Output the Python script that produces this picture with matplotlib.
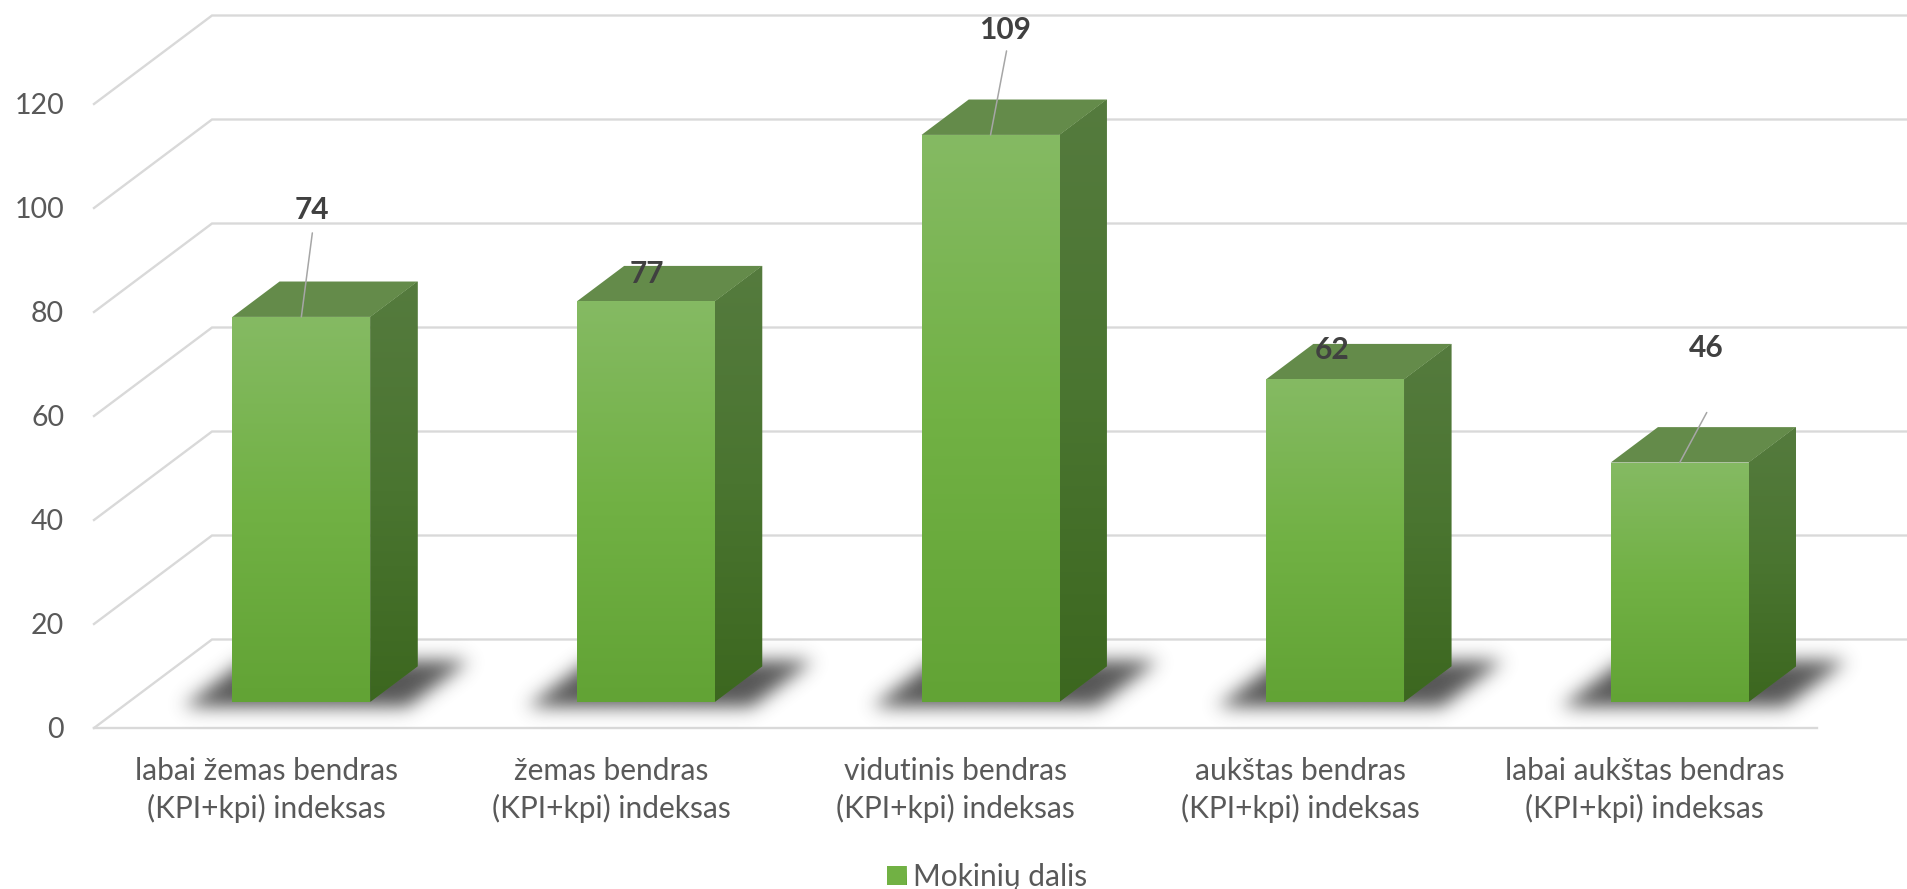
#!/usr/bin/env python3

import numpy as np
import matplotlib
matplotlib.use('Agg')
import matplotlib.pyplot as plt
from matplotlib.colors import LinearSegmentedColormap, to_rgb
from matplotlib.patches import Patch, Polygon

# data
categories = [
    'labai žemas bendras\n(KPI+kpi) indeksas',
    'žemas bendras\n(KPI+kpi) indeksas',
    'vidutinis bendras\n(KPI+kpi) indeksas',
    'aukštas bendras\n(KPI+kpi) indeksas',
    'labai aukštas bendras\n(KPI+kpi) indeksas',
]
values = [74, 77, 109, 62, 46]
yticks = [0, 20, 40, 60, 80, 100, 120]
series_name = 'Mokinių dalis'

# data label placement, in pixels from the top centre of the bar front
label_offsets = [(11, 107), (1, 27), (14, 105), (-3, 29), (27, 115)]
leader_ends = [(11, 84), None, (16, 84), None, (27, 50)]

plt.rcParams['font.family'] = ['Lato', 'DejaVu Sans']

W, H = 1908, 889
LEFT, RIGHT, FLOOR = 94, 1817, 728
PX_PER_CAT = (RIGHT - LEFT) / 5
PX_PER_UNIT = 5.2

# oblique projection: depth 0 is the front of the floor, depth 1 the back wall
DX = 118 / PX_PER_CAT
DY = 88.5 / PX_PER_UNIT
BAR_HALF = 69 / PX_PER_CAT
DEPTH_FRONT = 0.297
DEPTH_BACK = 0.697

GRID = '#d9d9d9'
TEXT = '#595959'
LABEL = '#404040'
FRONT = ['#85ba63', '#71b144', '#62a335']


def project(x, v, d):
    return x + d * DX, v + d * DY


def gradient(ax, corners, colors, zorder):
    # vertical colour gradient clipped to a polygon
    corners = np.array(corners)
    cmap = LinearSegmentedColormap.from_list('g', colors)
    extent = (corners[:, 0].min(), corners[:, 0].max(),
              corners[:, 1].min(), corners[:, 1].max())
    ax.add_patch(Polygon(corners, closed=True, fc=colors[1], ec='none', zorder=zorder))
    im = ax.imshow(np.linspace(0, 1, 256).reshape(-1, 1), cmap=cmap, extent=extent,
                   aspect='auto', origin='upper', zorder=zorder, interpolation='bilinear')
    clip = Polygon(corners, closed=True, transform=ax.transData)
    im.set_clip_path(clip)


def blur(a, sigma):
    r = int(sigma * 3)
    k = np.exp(-0.5 * (np.arange(-r, r + 1) / sigma) ** 2)
    k /= k.sum()
    a = np.apply_along_axis(lambda m: np.convolve(m, k, mode='same'), 0, a)
    a = np.apply_along_axis(lambda m: np.convolve(m, k, mode='same'), 1, a)
    return a


def shadow(ax, i):
    # soft shadow on the floor, a little bigger than the bar footprint
    x0, x1 = i - 0.55, i + 1.05
    v0, v1 = -3, 30
    nx = int((x1 - x0) * PX_PER_CAT)
    ny = int((v1 - v0) * PX_PER_UNIT)
    xs, vs = np.meshgrid(np.linspace(x0, x1, nx), np.linspace(v1, v0, ny))
    d = vs / DY
    mask = (np.abs(xs - d * DX - i) < 0.325) & (d > 0.235) & (d < 0.76)
    alpha = blur(mask.astype(float), 9) * 0.88
    rgba = np.zeros((ny, nx, 4))
    rgba[..., :3] = to_rgb('#3f3f3f')
    rgba[..., 3] = alpha
    ax.imshow(rgba, extent=(x0, x1, v0, v1), aspect='auto', zorder=3, clip_on=False)


fig = plt.figure(figsize=(W / 100, H / 100), dpi=100)
ax = fig.add_axes([LEFT / W, 1 - FLOOR / H, (RIGHT - LEFT) / W, FLOOR / H])

# walls and floor
for v in yticks:
    x_end = 4.5 + DX
    bx, by = project(-0.5, v, 1)
    ax.plot([-0.5, bx, x_end], [v, by, by], color=GRID, lw=1.7, zorder=1, clip_on=False,
            solid_joinstyle='miter')
ax.plot([-0.5, 4.5], [0, 0], color=GRID, lw=1.7, zorder=1, clip_on=False)

# bars
for i, v in enumerate(values):
    shadow(ax, i)
    l, r = i - BAR_HALF, i + BAR_HALF
    fl = project(l, 0, DEPTH_FRONT)
    fr = project(r, 0, DEPTH_FRONT)
    tl = project(l, v, DEPTH_FRONT)
    tr = project(r, v, DEPTH_FRONT)
    br = project(r, 0, DEPTH_BACK)
    bt = project(r, v, DEPTH_BACK)
    bl = project(l, v, DEPTH_BACK)
    gradient(ax, [tr, bt, br, fr], ['#557b3e', '#4a7530', '#3c671f'], 5)
    ax.add_patch(Polygon([tl, tr, bt, bl], closed=True, fc='#648b4a', ec='none', zorder=5))
    gradient(ax, [fl, fr, tr, tl], FRONT, 6)

    # data label and its leader line
    ox, oy = label_offsets[i]
    anchor = project(i, v, DEPTH_FRONT)
    ax.annotate(str(v), anchor, xytext=(ox * 0.72, oy * 0.72), textcoords='offset points',
                ha='center', va='center', fontsize=21.5, fontweight='bold', color=LABEL,
                zorder=8, annotation_clip=False)
    if leader_ends[i] is not None:
        ex, ey = leader_ends[i]
        ax.annotate('', anchor, xytext=(ex * 0.72, ey * 0.72), textcoords='offset points',
                    arrowprops=dict(arrowstyle='-', color='#a6a6a6', lw=1.1,
                                    shrinkA=0, shrinkB=0), zorder=7)

ax.set_xlim(-0.5, 4.5)
ax.set_ylim(0, FLOOR / PX_PER_UNIT)
ax.set_xticks(range(len(categories)))
ax.set_xticklabels(categories, linespacing=1.38)
ax.set_yticks(yticks)
ax.tick_params(axis='both', length=0, labelcolor=TEXT)
ax.tick_params(axis='x', pad=21, labelsize=21.5)
ax.tick_params(axis='y', pad=21.5, labelsize=20.5)
for s in ax.spines.values():
    s.set_visible(False)
ax.patch.set_visible(False)

leg = fig.legend(handles=[Patch(facecolor=FRONT[1], label=series_name)], loc='center',
                 bbox_to_anchor=(987 / W, 1 - 877 / H), frameon=False, fontsize=21.5,
                 labelcolor=TEXT, handlelength=0.65, handleheight=0.65, handletextpad=0.25,
                 borderpad=0)

# legend swatch carries the same gradient as the bars
fig.canvas.draw()
box = leg.get_patches()[0].get_window_extent().transformed(fig.transFigure.inverted())
sw = fig.add_axes(box.bounds)
sw.imshow(np.linspace(0, 1, 64).reshape(-1, 1), aspect='auto',
          cmap=LinearSegmentedColormap.from_list('s', FRONT))
sw.axis('off')

fig.savefig('out.png', dpi=100)
